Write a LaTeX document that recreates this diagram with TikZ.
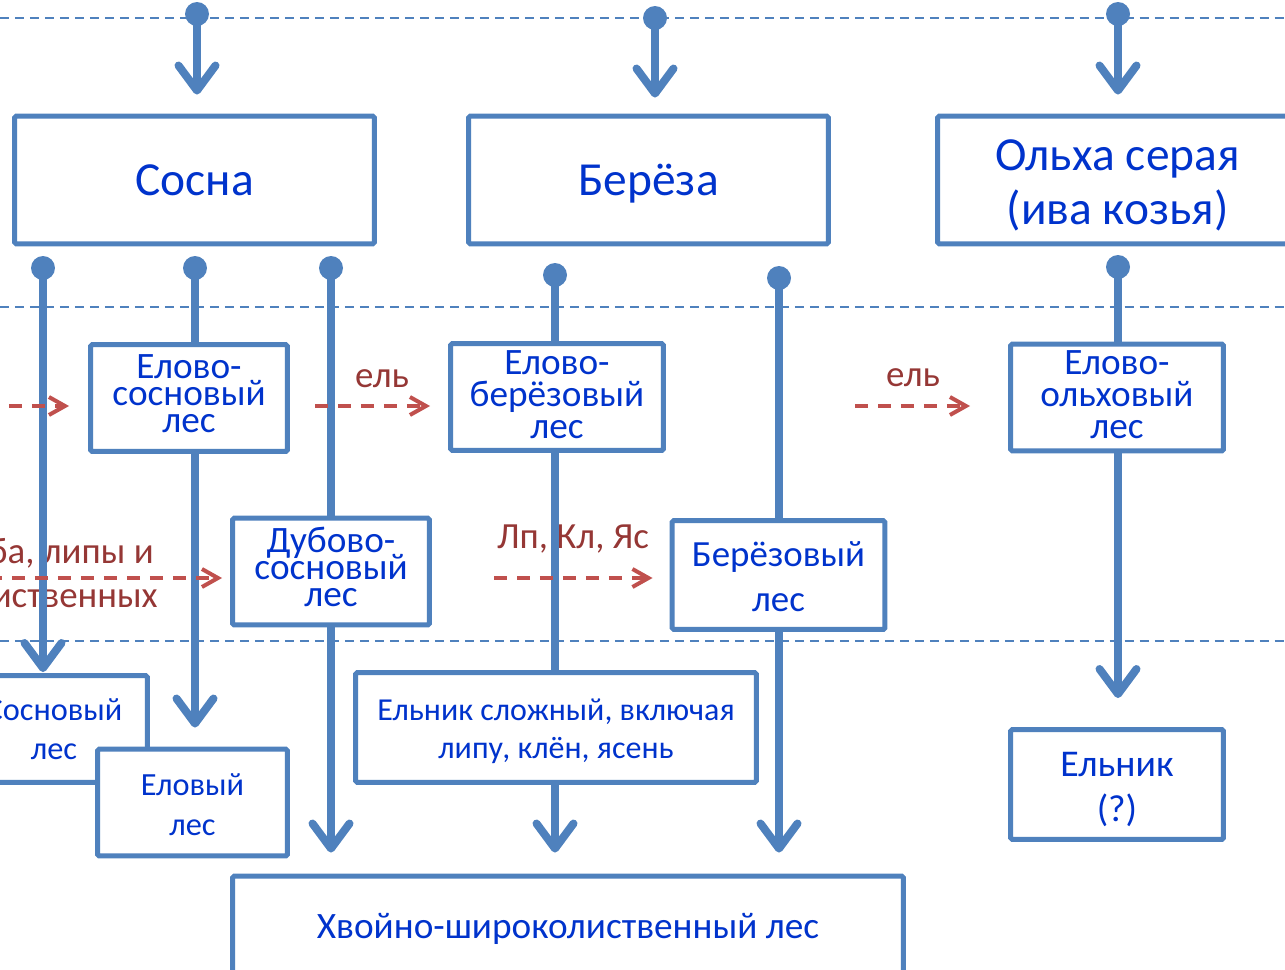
\documentclass[tikz,border=0pt]{standalone}
\usepackage{fontspec}
\setmainfont{Carlito}
\definecolor{LineBlue}{RGB}{79,129,189}
\definecolor{TextBlue}{RGB}{0,51,204}
\definecolor{ArrRed}{RGB}{192,80,77}
\definecolor{LabRed}{RGB}{149,55,53}
\usetikzlibrary{
    arrows.meta,
    backgrounds,
}
\setlength{\lineskiplimit}{-20pt}

\begin{document}
\begin{tikzpicture}[
    x=0.02cm, y=-0.02cm,
    box/.style={rectangle, rounded corners=1pt, draw=LineBlue, line width=0.1cm, fill=white, text=TextBlue, align=center, inner sep=0pt, minimum width=4.26cm, minimum height=2.14cm},
    big/.style={box, minimum width=7.2cm, minimum height=2.56cm, font=\fontsize{27}{31}\selectfont},
    three/.style={font=\fontsize{21.2}{#1}\selectfont},
    lab/.style={text=LabRed, inner sep=0pt, font=\fontsize{21}{25}\selectfont},
    sep/.style={LineBlue, line width=0.03cm, dash pattern=on 0.18cm off 0.12cm},
    vline/.style={LineBlue, line width=0.16cm, -{Straight Barb[length=0.5cm, width=0.74cm, round]}},
    redarr/.style={ArrRed, line width=0.08cm, dash pattern=on 0.26cm off 0.2cm, -{Straight Barb[length=0.32cm, width=0.36cm]}},
    dot/.style={fill=LineBlue}
]
    \useasboundingbox (0,0) rectangle (1285,970);

    \node[big, text height=18pt, text depth=0pt] (sosna)  at (194.5,180) {Сосна};
    \node[big, text height=18pt, text depth=0pt] (bereza) at (648.5,180) {Берёза};
    \node[big] (olha) at (1117.5,180) {\rule{0pt}{23.5pt}Ольха серая\\(ива козья)};

    \node[box, minimum width=3.94cm, three=15.4] (es) at (189,398) {Елово-\\сосновый\\лес\rule[-5.5pt]{0pt}{5.5pt}};
    \node[box, three=18.2] (eb) at (557,397) {Елово-\\берёзовый\\лес\rule[-2.8pt]{0pt}{2.8pt}};
    \node[box, three=18.2] (eo) at (1117,397.5) {Елово-\\ольховый\\лес\rule[-3.4pt]{0pt}{3.4pt}};
    \node[box, minimum width=3.94cm, three=15.4] (ds) at (331,571.5) {Дубово-\\сосновый\\лес\rule[-5.5pt]{0pt}{5.5pt}};
    \node[box, minimum height=2.18cm, font=\fontsize{21}{25.6}\selectfont] (bz) at (778.5,575) {\rule{0pt}{16.5pt}Берёзовый\\лес};

    \node[box, minimum width=3.74cm, font=\fontsize{18.4}{22.5}\selectfont] (sos) at (54,729) {Сосновый\\лес};
    \node[box, minimum width=3.8cm, font=\fontsize{18.4}{22.8}\selectfont] (ely) at (192.5,802.5) {\rule{0pt}{15.2pt}Еловый\\лес};
    \node[box, minimum width=8.02cm, minimum height=2.2cm, font=\fontsize{18.2}{21.6}\selectfont] (esl) at (556,727.5) {\rule{0pt}{17pt}Ельник сложный, включая\\липу, клён, ясень};
    \node[box, minimum height=2.2cm, font=\fontsize{21.5}{25.6}\selectfont] (eln) at (1117,784.5) {\rule{0pt}{19.5pt}Ельник\\(?)};
    \node[box, minimum width=13.42cm, minimum height=2cm, text depth=0pt, font=\fontsize{21.2}{25}\selectfont] (hv) at (568,926) {Хвойно-широколиственный лес};

    \coordinate (t1) at (197,14);
    \coordinate (t2) at (655,18);
    \coordinate (t3) at (1118,14);
    \coordinate (d1) at (43,268);
    \coordinate (d2) at (195,268);
    \coordinate (d3) at (331,268);
    \coordinate (d4) at (555,275);
    \coordinate (d5) at (779,278);
    \coordinate (d6) at (1118,267);

    \coordinate (ra1) at (-60,406);
    \coordinate (ra2) at (315,406);
    \coordinate (ra3) at (855,406);
    \coordinate (ra4) at (-80,578);
    \coordinate (ra5) at (494,578);

    \begin{scope}[on background layer]
        \draw[sep] (0,18) -- (1285,18);
        \draw[sep] (0,307) -- (1285,307);
        \draw[sep] (0,641) -- (1285,641);

        \node[lab, anchor=base] (el1) at (382,387) {ель};
        \node[lab, anchor=base] (el2) at (913,386) {ель};
        \node[lab, anchor=base] (lkj) at (573,548) {Лп, Кл, Яс};
        \node[lab, anchor=base east] (dub1) at (154,563) {ба, липы и};
        \node[lab, anchor=base east] (dub2) at (158,607) {иственных};

        \draw[vline, shorten >=0.38cm] (t1) -- (t1 |- sosna.north);
        \draw[vline, shorten >=0.32cm] (t2) -- (t2 |- bereza.north);
        \draw[vline, shorten >=0.38cm] (t3) -- (t3 |- olha.north);
        \draw[vline, shorten >=0.02cm] (d1) -- (d1 |- sos.north);
        \draw[vline, shorten >=0.38cm] (d2) -- (d2 |- ely.north);
        \draw[vline, shorten >=0.42cm] (d3) -- (d3 |- hv.north);
        \draw[vline, shorten >=0.42cm] (d4) -- (d4 |- hv.north);
        \draw[vline, shorten >=0.42cm] (d5) -- (d5 |- hv.north);
        \draw[vline, shorten >=0.58cm] (d6) -- (d6 |- eln.north);

        \foreach \d in {t1,t2,t3,d1,d2,d3,d4,d5,d6}
            \fill[dot] (\d) circle (0.24cm);

        \draw[redarr, shorten >=0.38cm] (ra1) -- (ra1 -| es.west);
        \draw[redarr, shorten >=0.36cm] (ra2) -- (ra2 -| eb.west);
        \draw[redarr, shorten >=0.76cm] (ra3) -- (ra3 -| eo.west);
        \draw[redarr, shorten >=0.16cm] (ra4) -- (ra4 -| ds.west);
        \draw[redarr, shorten >=0.34cm] (ra5) -- (ra5 -| bz.west);
    \end{scope}
\end{tikzpicture}
\end{document}
